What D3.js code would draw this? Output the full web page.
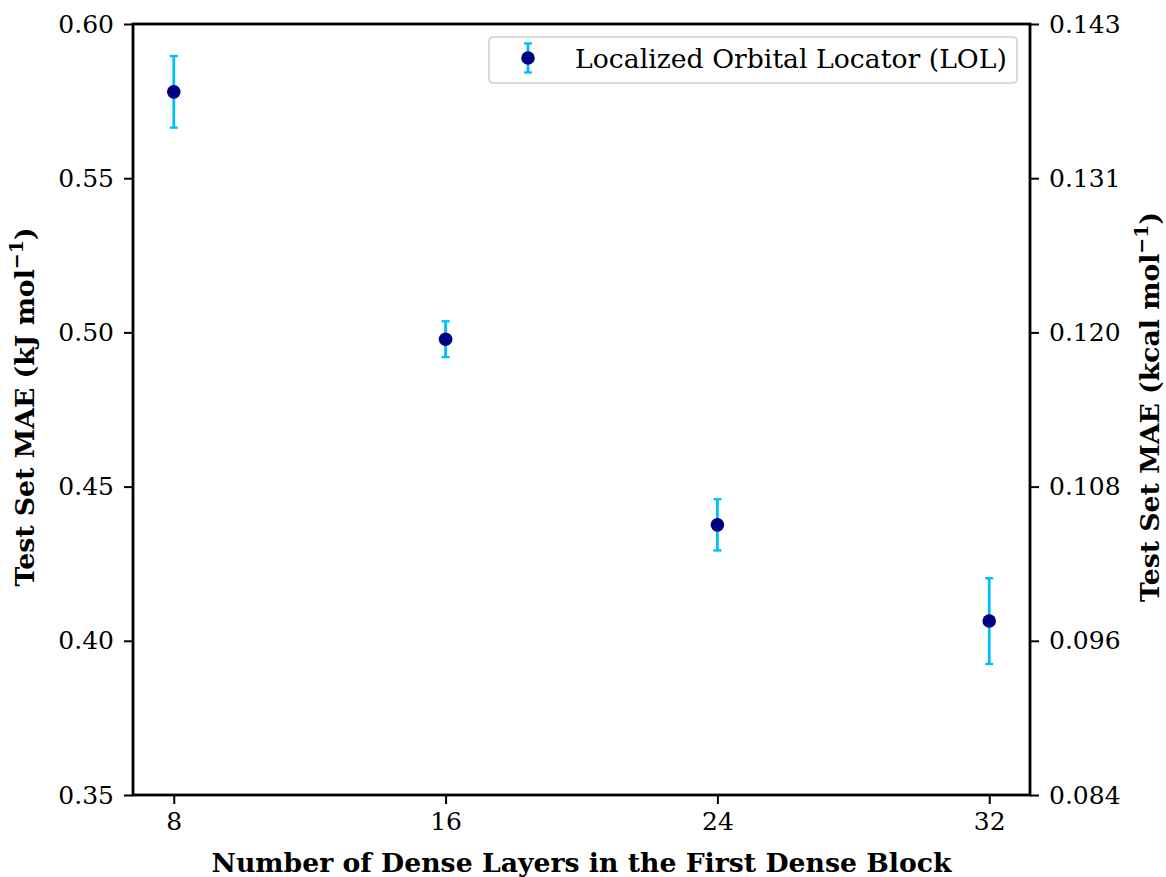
<!DOCTYPE html>
<html>
<head>
<meta charset="utf-8">
<script src="https://cdn.jsdelivr.net/npm/d3@7"></script>
<style>
  html, body { margin: 0; padding: 0; background: #fff; }
  svg { display: block; font-family: "DejaVu Serif", serif; }
</style>
</head>
<body>
<svg id="chart" width="1166" height="877"></svg>
<script>
// Number of dense layers in the first dense block vs. test-set MAE (kJ/mol)
const layers = [8, 16, 24, 32];
const maeKJ = [0.578, 0.4978, 0.4376, 0.4064];
const errKJ = [0.0116, 0.0058, 0.0083, 0.0139];

const xTicks = [8, 16, 24, 32];
const yTicksKJ = [0.35, 0.40, 0.45, 0.50, 0.55, 0.60];
const KJ_PER_KCAL = 4.184;

const seriesName = "Localized Orbital Locator (LOL)";

const W = 1166, H = 877;
const margin = { left: 133, right: W - 1030, top: 24, bottom: H - 795 };
const iw = W - margin.left - margin.right;
const ih = H - margin.top - margin.bottom;

const svg = d3.select("#chart");
const g = svg.append("g").attr("transform", `translate(${margin.left},${margin.top})`);

const x = d3.scaleLinear().domain([6.8, 33.2]).range([0, iw]);
const y = d3.scaleLinear().domain([0.35, 0.60]).range([ih, 0]);
const yKcal = d3.scaleLinear()
  .domain(y.domain().map(v => v / KJ_PER_KCAL))
  .range([ih, 0]);

const FS = 25;       // tick labels
const FS_LABEL = 26.7; // axis titles and legend
const tickLen = 9;

function styleAxis(sel) {
  sel.select(".domain").remove();
  sel.selectAll(".tick line").attr("stroke", "#000").attr("stroke-width", 2);
  sel.selectAll(".tick text")
    .attr("fill", "#000")
    .style("font-family", '"DejaVu Serif", serif')
    .style("font-size", FS + "px");
}

// bottom axis
g.append("g")
  .attr("transform", `translate(0,${ih})`)
  .call(d3.axisBottom(x).tickValues(xTicks).tickFormat(d3.format("d"))
    .tickSizeInner(tickLen).tickSizeOuter(0).tickPadding(8))
  .call(styleAxis);

// left axis (kJ/mol)
g.append("g")
  .call(d3.axisLeft(y).tickValues(yTicksKJ).tickFormat(d3.format(".2f"))
    .tickSizeInner(tickLen).tickSizeOuter(0).tickPadding(10))
  .call(styleAxis);

// right axis (kcal/mol), same tick positions converted
g.append("g")
  .attr("transform", `translate(${iw},0)`)
  .call(d3.axisRight(yKcal).tickValues(yTicksKJ.map(v => v / KJ_PER_KCAL))
    .tickFormat(d3.format(".3f"))
    .tickSizeInner(tickLen).tickSizeOuter(0).tickPadding(10))
  .call(styleAxis);

// frame
g.append("rect")
  .attr("x", 0).attr("y", 0).attr("width", iw).attr("height", ih)
  .attr("fill", "none").attr("stroke", "#000").attr("stroke-width", 2.8);

const ERR_COLOR = "#00bfff";
const MARK_COLOR = "#000080";
const capHalf = 4;
const markR = 6.8;

const pts = layers.map((l, i) => ({ l, v: maeKJ[i], e: errKJ[i] }));

const eb = g.append("g").selectAll("g").data(pts).join("g");
eb.append("line")
  .attr("x1", d => x(d.l)).attr("x2", d => x(d.l))
  .attr("y1", d => y(d.v - d.e)).attr("y2", d => y(d.v + d.e))
  .attr("stroke", ERR_COLOR).attr("stroke-width", 2.8);
eb.append("line")
  .attr("x1", d => x(d.l) - capHalf).attr("x2", d => x(d.l) + capHalf)
  .attr("y1", d => y(d.v + d.e)).attr("y2", d => y(d.v + d.e))
  .attr("stroke", ERR_COLOR).attr("stroke-width", 2.4);
eb.append("line")
  .attr("x1", d => x(d.l) - capHalf).attr("x2", d => x(d.l) + capHalf)
  .attr("y1", d => y(d.v - d.e)).attr("y2", d => y(d.v - d.e))
  .attr("stroke", ERR_COLOR).attr("stroke-width", 2.4);
eb.append("circle")
  .attr("cx", d => x(d.l)).attr("cy", d => y(d.v)).attr("r", markR)
  .attr("fill", MARK_COLOR);

// legend
const lg = svg.append("g").attr("transform", "translate(489,37)");
lg.append("rect")
  .attr("x", 0).attr("y", 0).attr("width", 528).attr("height", 46)
  .attr("rx", 4).attr("ry", 4)
  .attr("fill", "#fff").attr("fill-opacity", 0.8)
  .attr("stroke", "#d0d0d0").attr("stroke-width", 1.6);
const lx = 39, ly = 21, lh = 14.5;
lg.append("line").attr("x1", lx).attr("x2", lx).attr("y1", ly - lh).attr("y2", ly + lh)
  .attr("stroke", ERR_COLOR).attr("stroke-width", 2.8);
[ly - lh, ly + lh].forEach(cy => {
  lg.append("line").attr("x1", lx - capHalf).attr("x2", lx + capHalf)
    .attr("y1", cy).attr("y2", cy)
    .attr("stroke", ERR_COLOR).attr("stroke-width", 2.4);
});
lg.append("circle").attr("cx", lx).attr("cy", ly).attr("r", markR).attr("fill", MARK_COLOR);
lg.append("text")
  .attr("x", 86).attr("y", ly + 9.5)
  .style("font-size", FS_LABEL + "px")
  .attr("fill", "#000")
  .text(seriesName);

// axis titles
svg.append("text")
  .attr("x", margin.left + iw / 2).attr("y", 872)
  .attr("text-anchor", "middle")
  .style("font-size", FS_LABEL + "px").style("font-weight", "bold")
  .text("Number of Dense Layers in the First Dense Block");

function unitLabel(sel, unit) {
  sel.append("tspan").text(`Test Set MAE (${unit} mol`);
  sel.append("tspan").attr("dy", -11).style("font-size", "19px").text("\u22121");
  sel.append("tspan").attr("dy", 11).text(")");
}

svg.append("text")
  .attr("transform", "translate(34,407) rotate(-90)")
  .attr("text-anchor", "middle")
  .style("font-size", FS_LABEL + "px").style("font-weight", "bold")
  .call(unitLabel, "kJ");

svg.append("text")
  .attr("transform", "translate(1159,407) rotate(-90)")
  .attr("text-anchor", "middle")
  .style("font-size", FS_LABEL + "px").style("font-weight", "bold")
  .call(unitLabel, "kcal");
</script>
</body>
</html>
